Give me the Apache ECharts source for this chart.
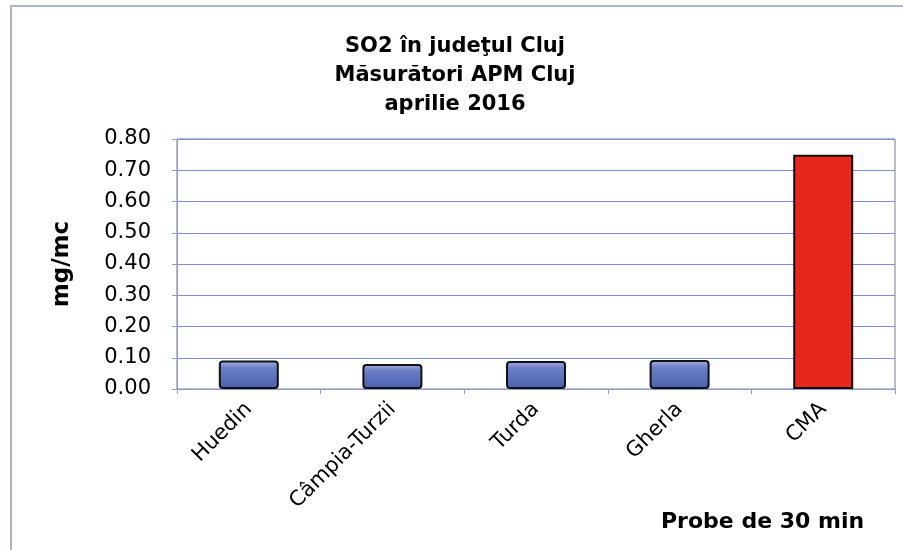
<!DOCTYPE html>
<html>
<head>
<meta charset="utf-8">
<script src="https://cdn.jsdelivr.net/npm/echarts@6/dist/echarts.min.js"></script>
<style>
    html, body { margin: 0; padding: 0; background: #ffffff; }
    #chart { width: 903px; height: 550px; }
</style>
</head>
<body>
<div id="chart"></div>
<script>
const categories = ['Huedin', 'Câmpia-Turzii', 'Turda', 'Gherla', 'CMA'];
const so2Values = [0.091, 0.080, 0.090, 0.093, 0.750];
const barColors = ['blue', 'blue', 'blue', 'blue', 'red'];

const FONT = 'DejaVu Sans';

const blueFill = {
    type: 'linear', x: 0, y: 0, x2: 0, y2: 1,
    colorStops: [
        { offset: 0, color: '#aab5e8' },
        { offset: 0.25, color: '#6d7fc6' },
        { offset: 1, color: '#4b5fae' }
    ]
};

const chart = echarts.init(document.getElementById('chart'));
chart.setOption({
    animation: false,
    backgroundColor: '#ffffff',
    // outer frame of the scanned chart: only top and left edges are visible
    graphic: [{
        type: 'polyline',
        shape: { points: [[11, 552], [11, 6], [903, 6]] },
        style: { fill: 'none', stroke: '#aab6c8', lineWidth: 2 }
    }],
    title: [{
        text: 'SO2 în judeţul Cluj\nMăsurători APM Cluj\naprilie 2016',
        left: 450,
        top: 27,
        textAlign: 'center',
        textStyle: {
            fontFamily: FONT,
            fontSize: 21,
            fontWeight: 'bold',
            color: '#000',
            lineHeight: 29
        }
    }, {
        text: 'Probe de 30 min',
        left: 656,
        top: 506,
        textStyle: {
            fontFamily: FONT,
            fontSize: 22,
            fontWeight: 'bold',
            color: '#000'
        }
    }],
    grid: {
        left: 177, right: 8, top: 139, bottom: 161, containLabel: false,
        show: true, borderColor: '#7c7f8c', borderWidth: 1
    },
    xAxis: {
        type: 'category',
        data: categories,
        axisLine: { lineStyle: { color: '#8d9bc9', width: 1 } },
        axisTick: { show: true, length: 5, lineStyle: { color: '#8d9bc9' } },
        axisLabel: {
            rotate: 45,
            margin: 17,
            fontFamily: FONT,
            fontSize: 21,
            color: '#000'
        }
    },
    yAxis: {
        type: 'value',
        min: 0,
        max: 0.8,
        interval: 0.1,
        name: 'mg/mc',
        nameLocation: 'middle',
        nameGap: 103,
        nameRotate: 90,
        nameTextStyle: {
            fontFamily: FONT,
            fontSize: 23,
            fontWeight: 'bold',
            color: '#000'
        },
        axisLine: { show: true, lineStyle: { color: '#8d9bc9' } },
        axisTick: { show: true, length: 5, lineStyle: { color: '#8d9bc9' } },
        axisLabel: {
            formatter: v => v.toFixed(2),
            fontFamily: FONT,
            fontSize: 21,
            color: '#000',
            margin: 26
        },
        splitLine: { lineStyle: { color: '#7f8fd6', width: 1 } }
    },
    series: [{
        type: 'bar',
        barWidth: 60,
        data: so2Values.map((v, i) => ({
            value: v,
            itemStyle: {
                color: barColors[i] === 'red' ? '#e8261c' : blueFill,
                borderColor: '#111',
                borderWidth: 2,
                borderRadius: barColors[i] === 'red' ? 0 : 3
            }
        }))
    }]
});
</script>
</body>
</html>
